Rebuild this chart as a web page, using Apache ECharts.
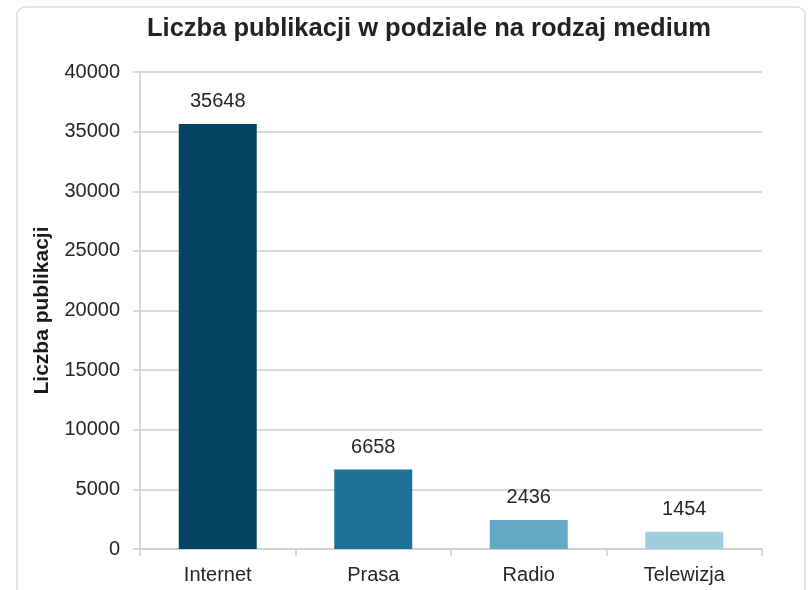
<!DOCTYPE html>
<html>
<head>
<meta charset="utf-8">
<script src="https://cdn.jsdelivr.net/npm/echarts@6/dist/echarts.min.js"></script>
<style>
  html, body { margin: 0; padding: 0; background: #fff; }
  #chart { width: 812px; height: 590px; }
</style>
</head>
<body>
<div id="chart"></div>
<script>
// --- Data ---
const categories = ['Internet', 'Prasa', 'Radio', 'Telewizja'];
const values = [35648, 6658, 2436, 1454];
const barColors = ['#034465', '#1E7296', '#62A9C4', '#A1CEDF'];

const chart = echarts.init(document.getElementById('chart'), null, { renderer: 'canvas' });
const font = 'Liberation Sans, Arial, sans-serif';
const gridColor = '#C9CED2';

chart.setOption({
  backgroundColor: '#fff',
  animation: false,
  title: {
    text: 'Liczba publikacji w podziale na rodzaj medium',
    left: 424,
    textAlign: 'center',
    top: 11,
    textStyle: { fontFamily: font, fontSize: 25.5, fontWeight: 'bold', color: '#222' }
  },
  graphic: [{
    type: 'rect',
    shape: { x: 17, y: 7, width: 788, height: 640, r: 8 },
    style: { fill: 'none', stroke: '#DADEE2', lineWidth: 1.5 },
    silent: true
  }],
  grid: { left: 140, right: 50, top: 72, bottom: 41 },
  xAxis: {
    type: 'category',
    data: categories,
    axisLine: { lineStyle: { color: gridColor, width: 1.5 } },
    axisTick: { show: true, length: 7, alignWithLabel: false, lineStyle: { color: gridColor, width: 1.5 } },
    axisLabel: { margin: 16, fontFamily: font, fontSize: 20, color: '#262626' }
  },
  yAxis: {
    type: 'value',
    min: 0,
    max: 40000,
    interval: 5000,
    name: 'Liczba publikacji',
    nameLocation: 'middle',
    nameGap: 87,
    nameTextStyle: { fontFamily: font, fontSize: 21, fontWeight: 'bold', color: '#1a1a1a' },
    axisLine: { show: true, lineStyle: { color: gridColor, width: 1.5 } },
    axisTick: { show: true, length: 7, lineStyle: { color: gridColor, width: 1.5 } },
    axisLabel: { margin: 20, fontFamily: font, fontSize: 20, color: '#262626', formatter: v => String(v) },
    splitLine: { lineStyle: { color: gridColor, width: 1.5 } }
  },
  series: [{
    type: 'bar',
    barWidth: 78,
    data: values.map((v, i) => ({ value: v, itemStyle: { color: barColors[i] } })),
    label: {
      show: true,
      position: 'top',
      distance: 12,
      fontFamily: font,
      fontSize: 20,
      color: '#262626'
    }
  }]
});
</script>
</body>
</html>
